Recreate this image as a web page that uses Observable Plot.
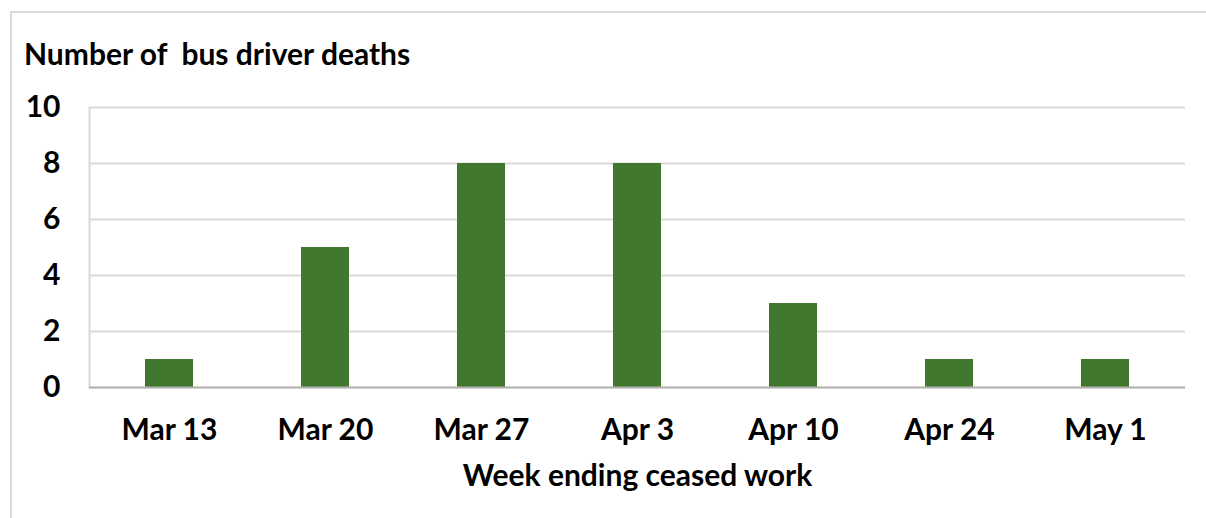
<!DOCTYPE html>
<html><head><meta charset="utf-8">
<script src="https://cdn.jsdelivr.net/npm/d3@7"></script>
<script src="https://cdn.jsdelivr.net/npm/@observablehq/plot@0.6"></script>
<style>
html,body{margin:0;padding:0;background:#fff;}
#wrap{position:relative;width:1206px;height:518px;overflow:hidden;font-family:Lato,"Open Sans",sans-serif;}
#frame{position:absolute;left:10px;top:11px;width:1300px;height:600px;border:2px solid #d9d9d9;box-sizing:border-box;}
#title{position:absolute;left:24px;top:35px;font-weight:bold;font-size:30px;line-height:36px;color:#000;white-space:pre;}
#chart{position:absolute;left:0;top:0;}
</style></head>
<body><div id="wrap"><div id="frame"></div><div id="title">Number of  bus driver deaths</div><div id="chart"></div></div>
<script>
const weeks = ["Mar 13","Mar 20","Mar 27","Apr 3","Apr 10","Apr 24","May 1"];
const deaths = [1,5,8,8,3,1,1];
const yTicks = [0,2,4,6,8,10];
const xLabel = "Week ending ceased work";
const data = weeks.map((w,i)=>({week:w, deaths:deaths[i]}));
const plot = Plot.plot({
  width:1206, height:518,
  marginLeft:89, marginRight:21, marginTop:107, marginBottom:131,
  style:{fontFamily:"Lato, 'Open Sans', sans-serif", fontWeight:"bold", fontSize:"30px", color:"#000", background:"transparent", overflow:"visible"},
  x:{domain:weeks, paddingInner:0.69, paddingOuter:0.345, label:null},
  y:{domain:[0,10], label:null},
  marks:[
    Plot.gridY(yTicks,{stroke:"#d9d9d9", strokeOpacity:1, strokeWidth:2}),
    Plot.frame({anchor:"left", stroke:"#d9d9d9", strokeWidth:2}),
    Plot.barY(data,{x:"week", y:"deaths", fill:"#41782f"}),
    Plot.ruleY([0],{stroke:"#b3b3b3", strokeWidth:2}),
    Plot.axisY(yTicks,{tickSize:0, tickPadding:29, fontSize:30, fontWeight:"bold", fill:"#000", label:null}),
    Plot.axisX({tickSize:0, tickPadding:31, fontSize:30, fontWeight:"bold", fill:"#000", label:null}),
    Plot.text([xLabel],{frameAnchor:"bottom", dy:98, fontSize:30, fontWeight:"bold", fill:"#000"})
  ]
});
document.getElementById("chart").appendChild(plot);
</script></body></html>
